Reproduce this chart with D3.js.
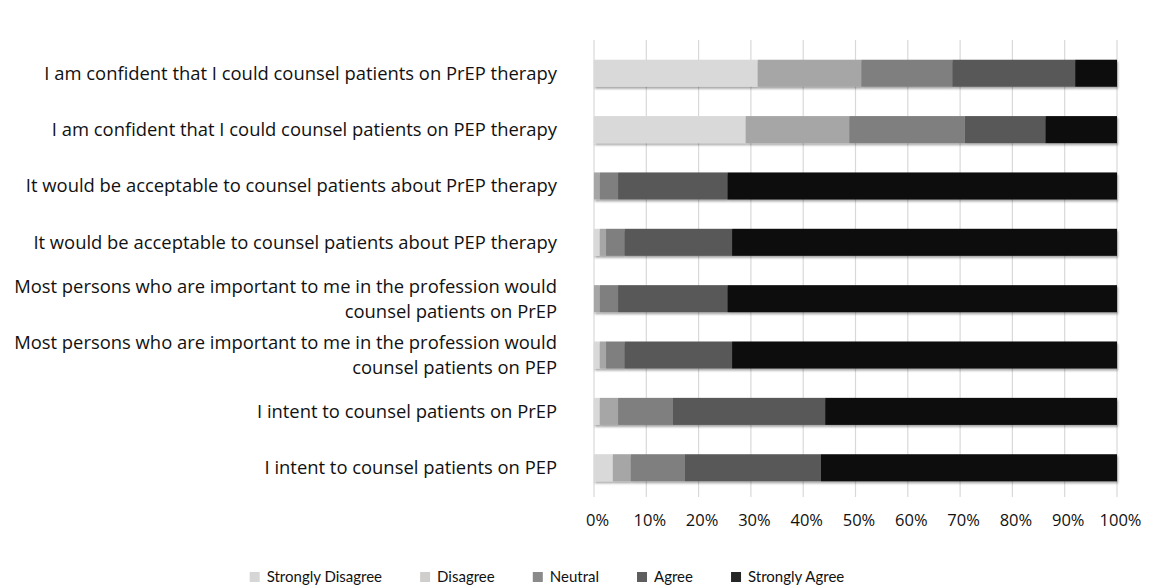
<!DOCTYPE html>
<html>
<head>
<meta charset="utf-8">
<script src="https://cdn.jsdelivr.net/npm/d3@7"></script>
<style>
  body { margin: 0; background: #fff; }
  text { font-family: "Open Sans", sans-serif; fill: #111; }
  .legend text { font-family: Lato, sans-serif; }
</style>
</head>
<body>
<script>

// statements, top to bottom; "\n" splits a two line label
var statements = [
    "I am confident that I could counsel patients on PrEP therapy",
    "I am confident that I could counsel patients on PEP therapy",
    "It would be acceptable to counsel patients about PrEP therapy",
    "It would be acceptable to counsel patients about PEP therapy",
    "Most persons who are important to me in the profession would\ncounsel patients on PrEP",
    "Most persons who are important to me in the profession would\ncounsel patients on PEP",
    "I intent to counsel patients on PrEP",
    "I intent to counsel patients on PEP"
];

var responses = ["Strongly Disagree", "Disagree", "Neutral", "Agree", "Strongly Agree"];

// percent of answers per statement (same order as statements)
var stronglyDisagree = [31.3, 29.0, 0.0, 1.1, 0.0, 1.1, 1.1, 3.6];
var disagree         = [19.8, 19.8, 1.1, 1.2, 1.1, 1.2, 3.5, 3.4];
var neutral          = [17.4, 22.1, 3.5, 3.5, 3.5, 3.5, 10.5, 10.4];
var agree            = [23.5, 15.4, 20.9, 20.6, 20.9, 20.6, 29.1, 26.0];
var stronglyAgree    = [8.0, 13.7, 74.5, 73.6, 74.5, 73.6, 55.8, 56.6];

var tickValues = [0, 10, 20, 30, 40, 50, 60, 70, 80, 90, 100];

var barColors    = ["#d9d9d9", "#a6a6a6", "#7f7f7f", "#595959", "#0d0d0d"];
var legendColors = ["#d6d6d6", "#d0cdcd", "#8a8a8a", "#5e5e5e", "#262626"];

var width  = 1153,
    height = 587;

var margin = { top: 40, left: 594, right: 36, bottom: 86 };

var rows = statements.map(function(s, i) {
    return {
        label: s,
        "Strongly Disagree": stronglyDisagree[i],
        "Disagree":          disagree[i],
        "Neutral":           neutral[i],
        "Agree":             agree[i],
        "Strongly Agree":    stronglyAgree[i]
    };
});

var stacked = d3.stack().keys(responses)(rows);

var svg = d3.select("body").append("svg")
    .attr("width", width)
    .attr("height", height);

var defs = svg.append("defs");
defs.append("filter")
    .attr("id", "shadow")
    .attr("x", "-5%").attr("y", "-20%")
    .attr("width", "110%").attr("height", "160%")
  .append("feDropShadow")
    .attr("dx", 1).attr("dy", 2)
    .attr("stdDeviation", 1.3)
    .attr("flood-color", "#000")
    .attr("flood-opacity", 0.35);

var x = d3.scaleLinear()
    .domain([0, 100])
    .range([margin.left, width - margin.right]);

var y = d3.scaleBand()
    .domain(statements)
    .range([margin.top, height - margin.bottom])
    .paddingInner(0.52)
    .paddingOuter(0.35);

var color = d3.scaleOrdinal().domain(responses).range(barColors);

// vertical gridlines
svg.append("g")
    .selectAll("line")
    .data(tickValues)
    .join("line")
    .attr("x1", function(d) { return x(d); })
    .attr("x2", function(d) { return x(d); })
    .attr("y1", margin.top)
    .attr("y2", height - margin.bottom - 4)
    .attr("stroke", "#d9d9d9")
    .attr("stroke-width", 1.2);

// the bars
var bars = svg.append("g").attr("filter", "url(#shadow)");

bars.selectAll("g")
    .data(stacked)
    .join("g")
    .attr("fill", function(d) { return color(d.key); })
  .selectAll("rect")
    .data(function(d) { return d; })
    .join("rect")
    .attr("x", function(d) { return x(d[0]); })
    .attr("y", function(d) { return y(d.data.label); })
    .attr("width", function(d) { return Math.max(0, x(d[1]) - x(d[0])); })
    .attr("height", y.bandwidth());

// x axis tick labels
var xAxis = d3.axisBottom(x)
    .tickValues(tickValues)
    .tickFormat(function(d) { return d + "%"; })
    .tickSize(0)
    .tickPadding(0);

var gx = svg.append("g")
    .attr("transform", "translate(3," + 514 + ")")
    .call(xAxis);
gx.select(".domain").remove();
gx.selectAll("text")
    .style("font-family", "'Open Sans', sans-serif")
    .style("font-size", "16.5px")
    .attr("fill", "#111");

// statement labels
var labelX = margin.left - 37;
var lab = svg.append("g")
    .selectAll("text")
    .data(statements)
    .join("text")
    .attr("x", labelX)
    .attr("y", function(d) { return y(d) + y.bandwidth() / 2; })
    .attr("text-anchor", "end")
    .style("font-size", "18.4px");

lab.each(function(d) {
    var parts = d.split("\n");
    var t = d3.select(this);
    parts.forEach(function(p, k) {
        t.append("tspan")
            .attr("x", labelX)
            .attr("dy", k === 0 ? (0.35 - (parts.length - 1) * 0.68) + "em" : "1.36em")
            .text(p);
    });
});

// legend
var legend = svg.append("g").attr("class", "legend");
var items = legend.selectAll("g")
    .data(responses)
    .join("g");

items.append("rect")
    .attr("width", 10)
    .attr("height", 10)
    .attr("y", -10)
    .attr("fill", function(d, i) { return legendColors[i]; });

items.append("text")
    .attr("x", 17)
    .style("font-size", "15px")
    .text(function(d) { return d; });

var offs = 0, gap = 38;
items.each(function() {
    var w = this.getBBox().width;
    d3.select(this).attr("data-x", offs);
    offs += w + gap;
});
var total = offs - gap;
var startX = 547 - total / 2;
items.attr("transform", function() {
    return "translate(" + (startX + (+d3.select(this).attr("data-x"))) + "," + 582 + ")";
});

</script>
</body>
</html>
